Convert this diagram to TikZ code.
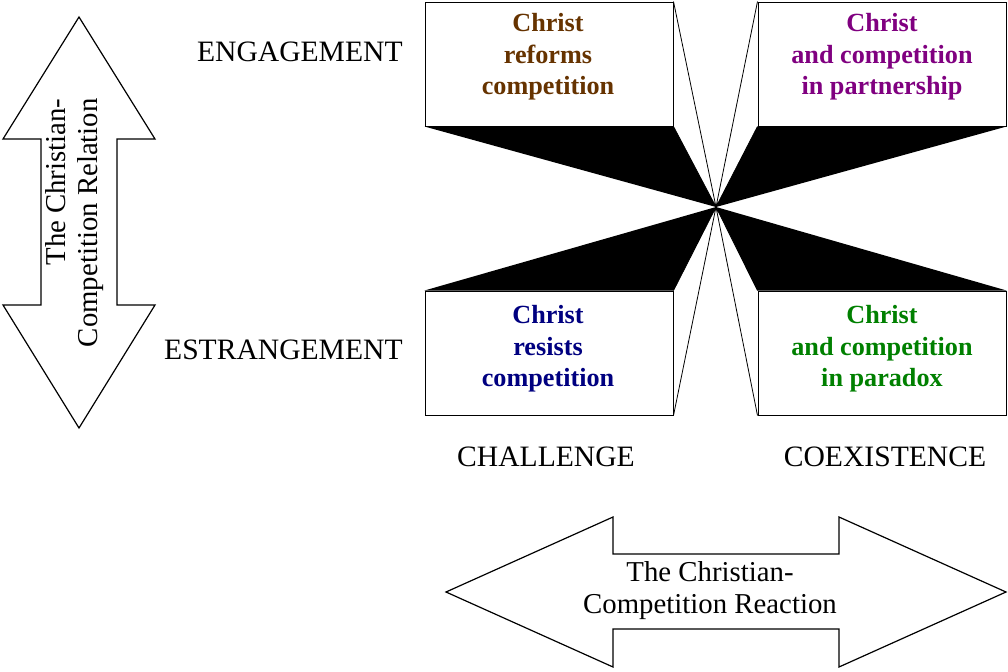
\documentclass[tikz,border=0pt]{standalone}
\usepackage{fontspec}
\setmainfont{Liberation Serif}
\usetikzlibrary{positioning}
\definecolor{reformbrown}{RGB}{102,51,0}
\definecolor{partnerpurple}{RGB}{128,0,128}
\definecolor{resistblue}{RGB}{0,0,128}
\definecolor{paradoxgreen}{RGB}{0,128,0}

\begin{document}
\begin{tikzpicture}[x=0.5pt,y=-0.5pt,
    quad/.style={rectangle,draw,fill=white,line width=0.5pt,
      minimum width=124pt,minimum height=62pt,inner sep=0pt},
    quadtext/.style={font=\fontsize{13.1}{15.75}\selectfont\bfseries,
      align=center,inner sep=0pt},
    axis/.style={font=\fontsize{14.8}{16}\selectfont,inner sep=0pt},
    arrowtext/.style={font=\fontsize{14.4}{16}\selectfont,inner sep=0pt},
    face/.style={line width=0.4pt},
    bigarrow/.style={draw,fill=white,line width=0.6pt,line join=miter}
    ]
\useasboundingbox (0,0) rectangle (1008,671);

\coordinate (C) at (716,207);

% the four boxes
\node[quad] (TL) at (549,64) {};
\node[quad] (TR) at (882,64) {};
\node[quad] (BL) at (549,353) {};
\node[quad] (BR) at (882,353) {};

% faces running into the centre
\fill (TL.south west) -- (TL.south east) -- (C) -- cycle;
\draw[face] (TL.north east) -- (C) -- (TL.south east);
\fill (TR.south west) -- (TR.south east) -- (C) -- cycle;
\draw[face] (TR.north west) -- (C) -- (TR.south west);
\fill (BL.north west) -- (BL.north east) -- (C) -- cycle;
\draw[face] (BL.south east) -- (C) -- (BL.north east);
\fill (BR.north west) -- (BR.north east) -- (C) -- cycle;
\draw[face] (BR.south west) -- (C) -- (BR.north west);

\node[quadtext,text=reformbrown] (TLtext) at (548,57) {Christ\\reforms\\competition};
\node[quadtext,text=partnerpurple] (TRtext) at (882,57) {Christ\\and competition\\in partnership};
\node[quadtext,text=resistblue] (BLtext) at (548,349) {Christ\\resists\\competition};
\node[quadtext,text=paradoxgreen] (BRtext) at (882,349) {Christ\\and competition\\in paradox};

% axis labels
\node[axis,anchor=east] (engage) at (403,52) {ENGAGEMENT};
\node[axis,anchor=east] (estrange) at (403,350) {ESTRANGEMENT};
\node[axis] (challenge) at (546,457) {CHALLENGE};
\node[axis] (coexist) at (885,457) {COEXISTENCE};

% big arrows
\draw[bigarrow] (79,17) -- (155,139) -- (117,139) -- (117,305) -- (155,305)
  -- (79,428) -- (3,305) -- (41,305) -- (41,139) -- (3,139) -- cycle;
\draw[bigarrow] (446,592) -- (613,517) -- (613,554) -- (839,554) -- (839,517)
  -- (1006,592) -- (839,667) -- (839,629) -- (613,629) -- (613,667) -- cycle;

\node[arrowtext,align=right,rotate=90,anchor=east] (relation) at (75,98)
  {The Christian-\\Competition Relation};
\node[arrowtext,align=center] (reaction) at (710,591)
  {The Christian-\\Competition Reaction};
\end{tikzpicture}
\end{document}
